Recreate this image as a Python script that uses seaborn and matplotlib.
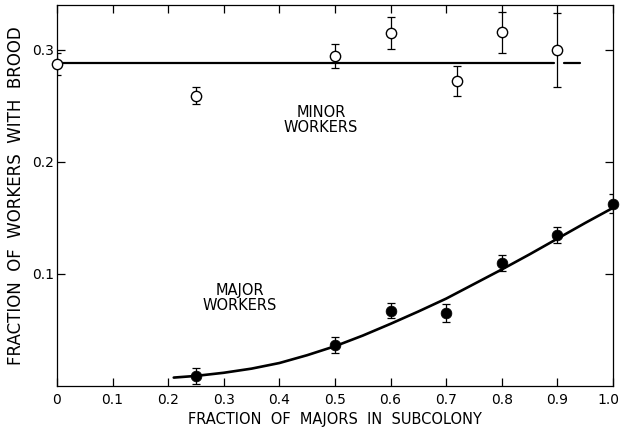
import numpy as np
import pandas as pd
import seaborn as sns
import matplotlib
matplotlib.use("Agg")
import matplotlib.pyplot as plt
from matplotlib.transforms import ScaledTranslation

# minor workers (open circles)
minor_x = [0.0, 0.25, 0.5, 0.6, 0.72, 0.8, 0.9]
minor_y = [0.2875, 0.259, 0.2945, 0.315, 0.272, 0.3155, 0.300]
minor_err = [0.010, 0.0075, 0.011, 0.014, 0.0135, 0.0185, 0.033]
# mean line for minors, drawn in two pieces (short break near 0.9)
minor_line_x = [0.0, 0.893, 0.911, 0.941]
minor_line_y = [0.2885, 0.2885, 0.2885, 0.2885]
minor_line_seg = [0, 0, 1, 1]

# major workers (filled circles)
major_x = [0.25, 0.5, 0.6, 0.7, 0.8, 0.9, 1.0]
major_y = [0.009, 0.0366, 0.067, 0.0655, 0.1097, 0.1348, 0.1628]
major_err = [0.0075, 0.007, 0.0067, 0.008, 0.007, 0.007, 0.0085]

# fitted curve for majors
curve_x = [0.21, 0.25, 0.30, 0.35, 0.40, 0.45, 0.50, 0.55, 0.60, 0.65,
           0.70, 0.75, 0.80, 0.85, 0.90, 0.95, 1.00]
curve_y = [0.0075, 0.009, 0.0118, 0.0155, 0.0205, 0.0275, 0.0355, 0.045, 0.0555,
           0.0665, 0.078, 0.091, 0.104, 0.1175, 0.1315, 0.1455, 0.159]

x_ticks = [0.0, 0.1, 0.2, 0.3, 0.4, 0.5, 0.6, 0.7, 0.8, 0.9, 1.0]
x_tick_labels = ["0", "0.1", "0.2", "0.3", "0.4", "0.5", "0.6", "0.7", "0.8", "0.9", "1.0"]
y_ticks = [0.1, 0.2, 0.3]
y_tick_labels = ["0.1", "0.2", "0.3"]

sns.set_style("ticks")
plt.rcParams["font.family"] = ["DejaVu Sans"]
plt.rcParams["text.color"] = "black"
plt.rcParams["axes.labelcolor"] = "black"

minor_df = pd.DataFrame({"x": minor_x, "y": minor_y})
major_df = pd.DataFrame({"x": major_x, "y": major_y})
curve_df = pd.DataFrame({"x": curve_x, "y": curve_y})
line_df = pd.DataFrame({"x": minor_line_x, "y": minor_line_y, "seg": minor_line_seg})

fig = plt.figure(figsize=(6.22, 4.32), dpi=100)
ax = fig.add_axes([0.0916, 0.1065, 0.894, 0.882])

##
sns.lineplot(data=line_df, x="x", y="y", units="seg", color="black", lw=1.6,
             ax=ax, sort=False, estimator=None, zorder=2)
sns.lineplot(data=curve_df, x="x", y="y", color="black", lw=1.9, ax=ax,
             sort=False, estimator=None, zorder=2)

ax.errorbar(minor_x, minor_y, yerr=minor_err, fmt="none", ecolor="black",
            elinewidth=0.9, capsize=2.6, capthick=0.9, zorder=3)
ax.errorbar(major_x, major_y, yerr=major_err, fmt="none", ecolor="black",
            elinewidth=0.9, capsize=2.6, capthick=0.9, zorder=3)

sns.scatterplot(data=minor_df, x="x", y="y", marker="o", s=55,
                facecolor="white", edgecolor="black", linewidth=1.0,
                ax=ax, zorder=4, clip_on=False)
sns.scatterplot(data=major_df, x="x", y="y", marker="o", s=60,
                color="black", edgecolor="black", linewidth=0.5,
                ax=ax, zorder=4, clip_on=False)

ax.text(0.475, 0.2372, "MINOR\nWORKERS", ha="center", va="center",
        fontsize=10.5, linespacing=1.0)
ax.text(0.329, 0.0788, "MAJOR\nWORKERS", ha="center", va="center",
        fontsize=10.5, linespacing=1.0)

ax.set_xlim(0, 1.0)
ax.set_ylim(0, 0.34)
ax.set_xticks(x_ticks)
ax.set_xticklabels(x_tick_labels)
ax.set_yticks(y_ticks)
ax.set_yticklabels(y_tick_labels)
ax.tick_params(direction="in", length=6, width=0.9, labelsize=10,
               top=True, right=True, colors="black")
ax.tick_params(axis="x", pad=5)
ax.tick_params(axis="y", pad=2)
for sp in ax.spines.values():
    sp.set_visible(True)
    sp.set_linewidth(0.9)
    sp.set_color("black")

# nudge the last x label so it stays inside the figure
last = ax.get_xticklabels()[-1]
last.set_transform(last.get_transform() + ScaledTranslation(-3 / 72, 0, fig.dpi_scale_trans))

ax.set_xlabel("FRACTION  OF  MAJORS  IN  SUBCOLONY", fontsize=10.5, labelpad=4)
ax.set_ylabel("FRACTION  OF  WORKERS  WITH  BROOD", fontsize=12, labelpad=5)

fig.savefig("out.png", dpi=100)
